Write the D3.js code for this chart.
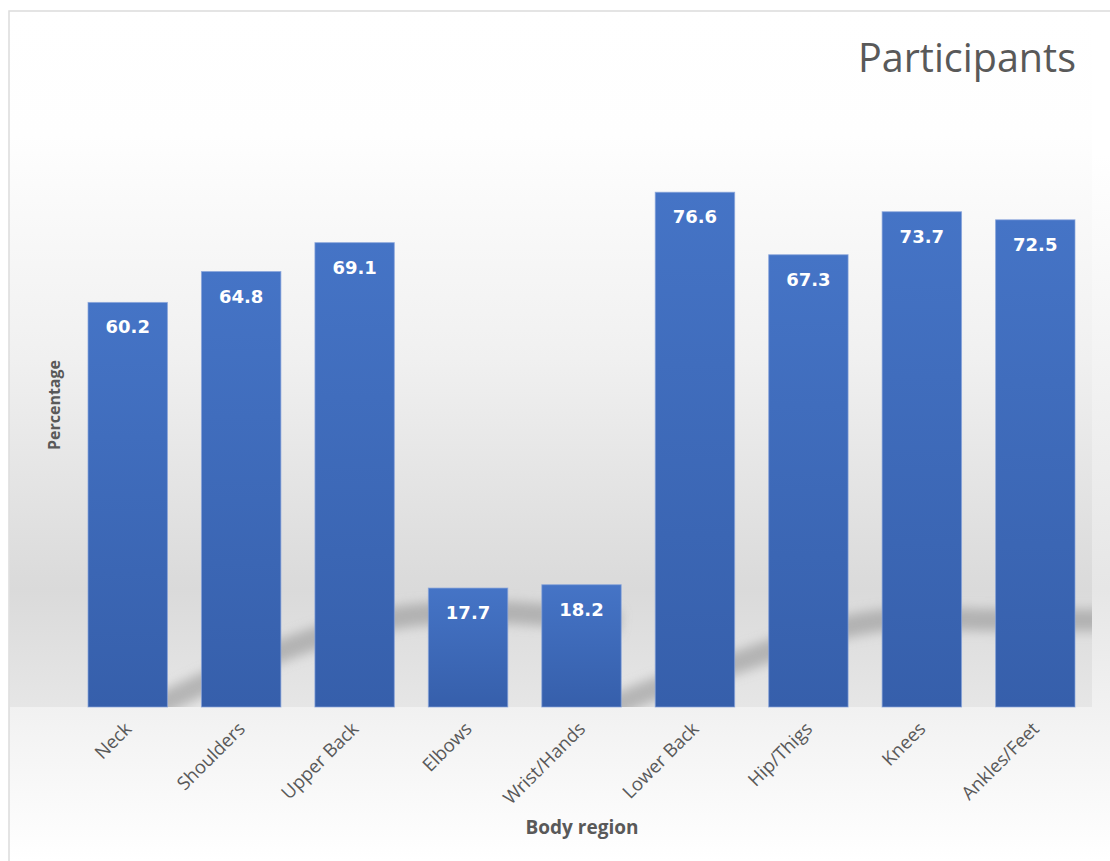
<!DOCTYPE html>
<html>
<head>
<meta charset="utf-8">
<script src="https://cdn.jsdelivr.net/npm/d3@7/dist/d3.min.js"></script>
<style>
  html, body { margin: 0; padding: 0; background: #ffffff; }
  svg { display: block; }
</style>
</head>
<body>
<svg id="chart" width="1110" height="861"></svg>
<script>
// Body regions and the share of participants reporting symptoms (%)
const categories = ["Neck", "Shoulders", "Upper Back", "Elbows", "Wrist/Hands",
                    "Lower Back", "Hip/Thigs", "Knees", "Ankles/Feet"];
const values = [60.2, 64.8, 69.1, 17.7, 18.2, 76.6, 67.3, 73.7, 72.5];
const yDomain = [0, 100];

const W = 1110, H = 861;
const plot = { left: 71, right: 1092, top: 35, bottom: 707 };

const svg = d3.select("#chart");
const defs = svg.append("defs");

// Chart-area background: white at the top, soft gray in the middle, white at the foot
const bgGrad = defs.append("linearGradient").attr("id", "bgGrad")
  .attr("gradientUnits", "userSpaceOnUse")
  .attr("x1", 0).attr("y1", 10).attr("x2", 0).attr("y2", H);
[[0, "#ffffff"], [0.17, "#ffffff"], [0.68, "#e6e6e6"], [0.83, "#f2f2f2"], [1, "#ffffff"]]
  .forEach(([o, c]) => bgGrad.append("stop").attr("offset", o).attr("stop-color", c));

// Band behind the bars, a little darker towards the baseline
const plotGrad = defs.append("linearGradient").attr("id", "plotGrad")
  .attr("gradientUnits", "userSpaceOnUse")
  .attr("x1", 0).attr("y1", 11).attr("x2", 0).attr("y2", plot.bottom);
[[0, "#ffffff"], [0.18, "#fefefe"], [0.5, "#f0f0f0"], [0.83, "#dadada"], [1, "#e6e6e6"]]
  .forEach(([o, c]) => plotGrad.append("stop").attr("offset", o).attr("stop-color", c));

// Bar fill: lighter at the top of every bar
const barGrad = defs.append("linearGradient").attr("id", "barGrad")
  .attr("x1", 0).attr("y1", 0).attr("x2", 0).attr("y2", 1);
[[0, "#4574c6"], [1, "#365fab"]]
  .forEach(([o, c]) => barGrad.append("stop").attr("offset", o).attr("stop-color", c));

const blur = defs.append("filter").attr("id", "soft")
  .attr("x", "-20%").attr("y", "-50%").attr("width", "140%").attr("height", "200%");
blur.append("feGaussianBlur").attr("stdDeviation", 5.5);

defs.append("clipPath").attr("id", "plotClip").append("rect")
  .attr("x", plot.left).attr("y", plot.top)
  .attr("width", plot.right - plot.left).attr("height", plot.bottom - plot.top);

// Chart frame
svg.append("rect")
  .attr("x", 9).attr("y", 11).attr("width", W + 20).attr("height", H + 20)
  .attr("fill", "url(#bgGrad)").attr("stroke", "#dcdcdc").attr("stroke-width", 1.5);

svg.append("rect")
  .attr("x", 10).attr("y", 12)
  .attr("width", plot.right - 10).attr("height", plot.bottom - 12)
  .attr("fill", "url(#plotGrad)");

// Scales
const x = d3.scaleBand().domain(categories)
  .range([plot.left, plot.right]).paddingInner(0.3).paddingOuter(0.15);
const y = d3.scaleLinear().domain(yDomain).range([plot.bottom, plot.top]);

// Soft diagonal shading behind the bars
const shade = svg.append("g").attr("clip-path", "url(#plotClip)");
const line = d3.line().curve(d3.curveBasis);
const sweeps = [
  [[140, 714], [200, 685], [300, 641], [410, 610], [525, 612], [620, 622]],
  [[600, 714], [640, 692], [750, 660], [865, 614], [980, 621], [1110, 620]]
];
sweeps.forEach(pts => {
  shade.append("path").attr("d", line(pts))
    .attr("fill", "none").attr("stroke", "#959595").attr("stroke-opacity", 0.6)
    .attr("stroke-width", 22).attr("filter", "url(#soft)");
});

// Bars
svg.append("g").selectAll("rect").data(values).join("rect")
  .attr("x", (d, i) => x(categories[i]))
  .attr("y", d => y(d))
  .attr("width", x.bandwidth())
  .attr("height", d => y(0) - y(d))
  .attr("fill", "url(#barGrad)")
  .attr("stroke", "#86a3da").attr("stroke-opacity", 0.7).attr("stroke-width", 1);

// Value labels inside the top of each bar
svg.append("g").selectAll("text").data(values).join("text")
  .attr("x", (d, i) => x(categories[i]) + x.bandwidth() / 2)
  .attr("y", d => y(d) + 31)
  .attr("text-anchor", "middle")
  .attr("font-family", "DejaVu Sans, sans-serif")
  .attr("font-weight", "bold")
  .attr("font-size", 18)
  .attr("fill", "#ffffff")
  .text(d => d.toFixed(1));

// Category axis labels, rotated
const xAxis = d3.axisBottom(x).tickSize(0).tickPadding(0);
const gx = svg.append("g").attr("transform", `translate(0,${plot.bottom})`).call(xAxis);
gx.select(".domain").remove();
gx.selectAll(".tick text")
  .attr("transform", "translate(5,23) rotate(-45)")
  .attr("text-anchor", "end")
  .attr("dy", 0).attr("y", 0)
  .attr("font-family", "Open Sans, sans-serif")
  .attr("font-size", 18.5)
  .attr("fill", "#595959");

// Title and axis titles
svg.append("text")
  .attr("x", 1076).attr("y", 72)
  .attr("text-anchor", "end")
  .attr("font-family", "Open Sans, sans-serif")
  .attr("font-size", 39.5)
  .attr("fill", "#595959")
  .text("Participants");

svg.append("text")
  .attr("transform", "translate(60,405) rotate(-90)")
  .attr("text-anchor", "middle")
  .attr("font-family", "Open Sans, sans-serif")
  .attr("font-weight", "bold")
  .attr("font-size", 16)
  .attr("fill", "#595959")
  .text("Percentage");

svg.append("text")
  .attr("x", 582).attr("y", 834)
  .attr("text-anchor", "middle")
  .attr("font-family", "Open Sans, sans-serif")
  .attr("font-weight", "bold")
  .attr("font-size", 19)
  .attr("fill", "#595959")
  .text("Body region");
</script>
</body>
</html>
